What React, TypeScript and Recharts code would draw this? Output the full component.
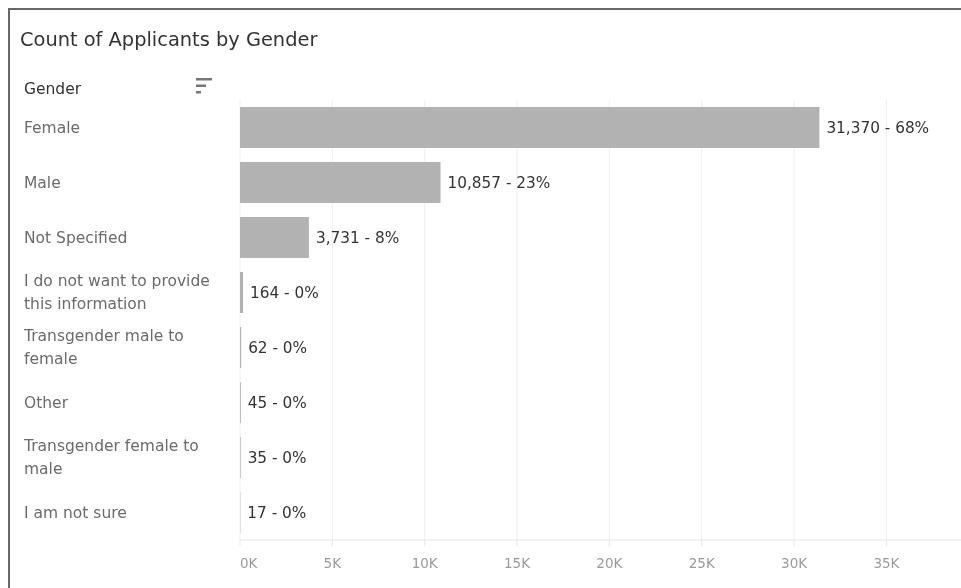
import { BarChart, Bar, XAxis, YAxis, CartesianGrid, LabelList } from 'recharts'

const categories = [
  'Female',
  'Male',
  'Not Specified',
  'I do not want to provide this information',
  'Transgender male to female',
  'Other',
  'Transgender female to male',
  'I am not sure',
]
const counts = [31370, 10857, 3731, 164, 62, 45, 35, 17]
const xTicks = [0, 5000, 10000, 15000, 20000, 25000, 30000, 35000]

const total = counts.reduce((a, b) => a + b, 0)
const data = categories.map((gender, i) => ({ gender, count: counts[i] }))

const FONT = '"DejaVu Sans", sans-serif'

// greedy word wrap, Tableau-ish
function wrap(text: string, maxChars: number) {
  const words = text.split(' ')
  const lines: string[] = []
  let cur = ''
  for (const w of words) {
    const next = cur ? cur + ' ' + w : w
    if (next.length > maxChars && cur) {
      lines.push(cur)
      cur = w
    } else {
      cur = next
    }
  }
  if (cur) lines.push(cur)
  return lines
}

function CategoryTick(props: any) {
  const { y, payload } = props
  const lines = wrap(payload.value, 24)
  const lh = 23.5
  const start = y - ((lines.length - 1) * lh) / 2
  return (
    <text x={16} y={start} fill="#6b6b6b" fontSize={15.5} fontFamily={FONT} dominantBaseline="central">
      {lines.map((l, i) => (
        <tspan key={i} x={16} y={start + i * lh} dominantBaseline="central">{l}</tspan>
      ))}
    </text>
  )
}

function ValueTick(props: any) {
  const { x, y, payload } = props
  const first = payload.value === 0
  return (
    <text
      x={x}
      y={y + 20}
      textAnchor={first ? 'start' : 'middle'}
      fill="#9a9a9a"
      fontSize={13.5}
      fontFamily={FONT}
    >
      {`${payload.value / 1000}K`}
    </text>
  )
}

function ValueLabel(props: any) {
  const { x, y, width, height, value } = props
  const pct = Math.round((value / total) * 100)
  return (
    <text
      x={x + width + 7}
      y={y + height / 2}
      fill="#333"
      fontSize={15.3}
      fontFamily={FONT}
      dominantBaseline="central"
    >
      {`${value.toLocaleString('en-US')} - ${pct}%`}
    </text>
  )
}

export default function App() {
  return (
    <div style={{ position: 'fixed', left: 8, top: 8, width: 953, height: 580, overflow: 'hidden', fontFamily: FONT }}>
      <style>{'body{overflow:hidden}'}</style>
      <div
        style={{
          position: 'absolute', left: 0, top: 0, width: 1000, height: 1000,
          border: '2px solid #666', boxSizing: 'border-box',
        }}
      />
      <div style={{ position: 'absolute', left: 12, top: 20, fontSize: 19.4, color: '#333', whiteSpace: 'nowrap' }}>
        Count of Applicants by Gender
      </div>
      <div style={{ position: 'absolute', left: 16, top: 72, fontSize: 15.5, color: '#333' }}>Gender</div>
      <svg style={{ position: 'absolute', left: 188, top: 70 }} width={20} height={18}>
        <rect x={0} y={0} width={16} height={2.5} fill="#777" />
        <rect x={0} y={6.5} width={10} height={2.5} fill="#777" />
        <rect x={0} y={13} width={5} height={2.5} fill="#777" />
      </svg>
      <div style={{ position: 'absolute', left: 0, top: 0 }}>
        <BarChart
          width={980}
          height={580}
          data={data}
          layout="vertical"
          margin={{ top: 92, right: 0, left: 0, bottom: 0 }}
          barSize={41}
        >
          <CartesianGrid horizontal={false} stroke="#efefef" />
          <XAxis
            type="number"
            domain={[0, 40500]}
            ticks={xTicks}
            height={48}
            axisLine={{ stroke: '#e6e6e6' }}
            tickLine={{ stroke: '#e6e6e6' }}
            tickSize={6}
            tick={<ValueTick />}
            interval={0}
          />
          <YAxis
            type="category"
            dataKey="gender"
            width={232}
            axisLine={false}
            tickLine={false}
            tick={<CategoryTick />}
            interval={0}
          />
          <Bar dataKey="count" fill="#b2b2b2" isAnimationActive={false}>
            <LabelList dataKey="count" content={<ValueLabel />} />
          </Bar>
        </BarChart>
      </div>
    </div>
  )
}
